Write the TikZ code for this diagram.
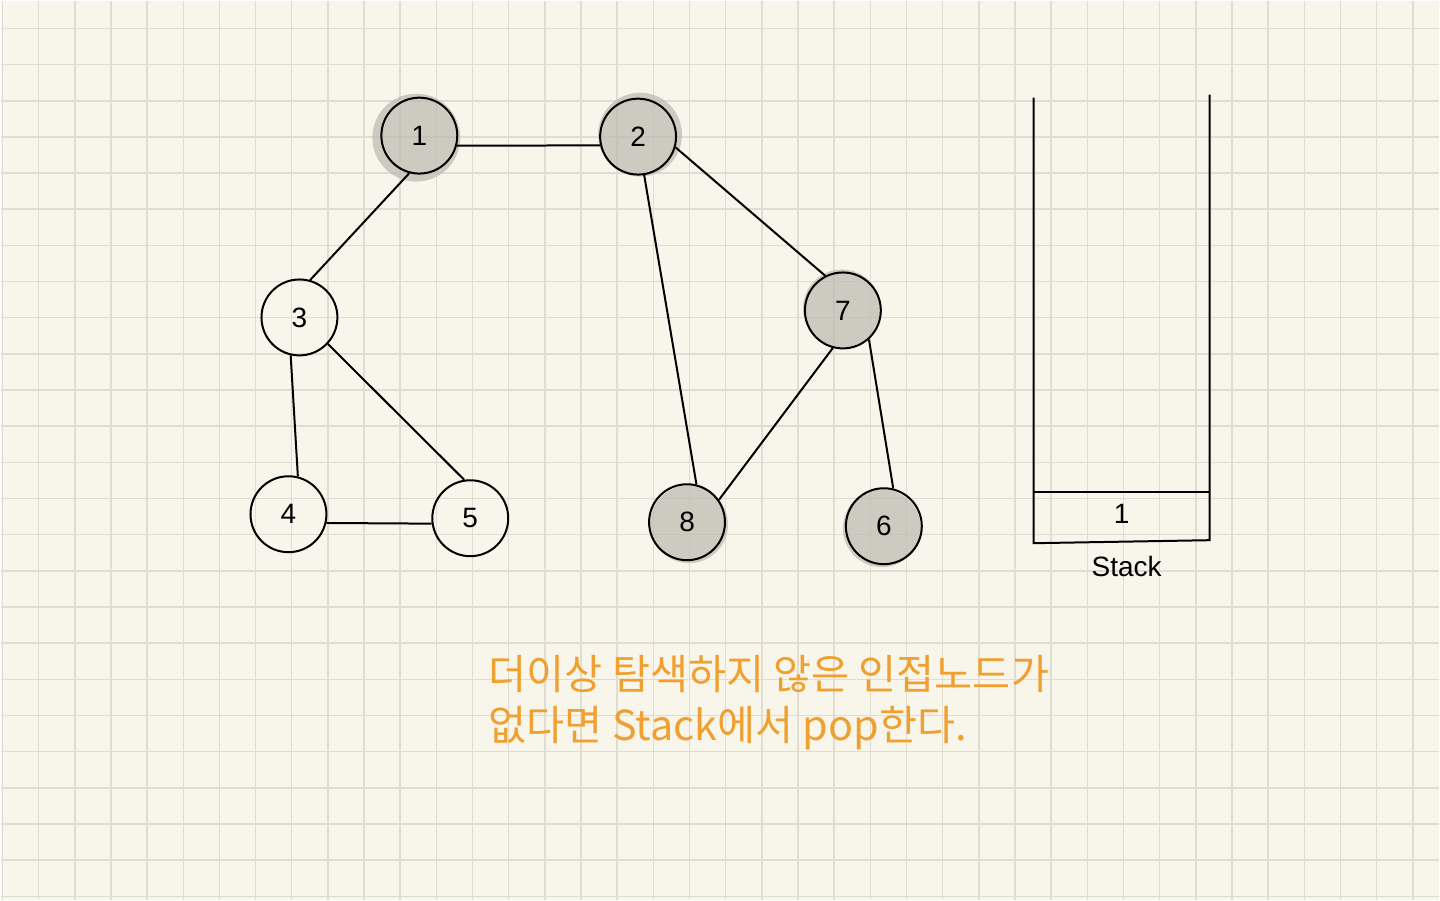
\documentclass[tikz,border=0pt]{standalone}
\usepackage{fontspec}
\setmainfont{Liberation Sans}
\newfontfamily\krfont{Noto Sans CJK KR}
\usetikzlibrary{backgrounds}
\definecolor{paper}{RGB}{248,246,234}
\definecolor{gridline}{RGB}{224,221,208}
\definecolor{visited}{RGB}{186,186,174}
\definecolor{note}{RGB}{240,160,48}

\begin{document}
\begin{tikzpicture}[x=0.5pt,y=-0.5pt]

\begin{scope}[on background layer]
	\fill[paper] (0,0) rectangle (1440,900);
	\foreach \i in {0,...,39}
		\draw[gridline,line width=0.75pt] ({1.7+36.2*\i},0) -- ({1.7+36.2*\i},900);
	\foreach \j in {0,...,24}
		\draw[gridline,line width=0.75pt] (0,{27.7+36.2*\j}) -- (1440,{27.7+36.2*\j});
\end{scope}
\useasboundingbox (0,0) rectangle (1440,900);

\begin{scope}[every node/.style={circle,draw,line width=1pt,minimum size=38pt,inner sep=0pt,font=\fontsize{14}{16}\selectfont}]
	\node (1) at (419,135) {1};
	\node (2) at (638,136) {2};
	\node (3) at (299,317) {3};
	\node (4) at (288,514) {4};
	\node (5) at (470,518) {5};
	\node (7) at (843,310) {7};
	\node (8) at (687,522) {8};
	\node (6) at (884,526) {6};
\end{scope}

% visited nodes
\begin{scope}[on background layer,every path/.style={fill=visited,fill opacity=.7}]
	\fill ([shift={(-3,2)}]1) circle (44);
	\fill ([shift={(2,-2)}]2) circle (42);
	\fill ([shift={(-1,-2)}]7) circle (39);
	\fill ([shift={(2,2)}]8) circle (39);
	\fill ([shift={(-2,2)}]6) circle (39);
\end{scope}

\begin{scope}[every edge/.style={draw=black,line width=1pt}]
	\path (1.-15) edge (2.-167);
	\path (1.-105) edge (3.74);
	\path (3.-103) edge (4.76);
	\path (3.-43) edge (5.99);
	\path (4.-13) edge (5.-172);
	\path (2.-81) edge (8.76);
	\path (2.-16) edge (7.117);
	\path (7.-105) edge (8.35);
	\path (7.-48) edge (6.76);
\end{scope}

% stack
\coordinate (stl) at (1034,97);
\coordinate (str) at (1210,94);
\coordinate (sbl) at (1034,543);
\coordinate (sbr) at (1210,540);
\coordinate (sml) at (1034,492);
\coordinate (smr) at (1210,492);
\draw[line width=1pt] (stl) -- (sbl) -- (sbr) -- (str);
\draw[line width=1pt] (sml) -- (smr);
\node[font=\fontsize{14}{16}\selectfont] (top) at (1122,514) {1};
\node[font=\fontsize{14}{16}\selectfont] (stack) at (1127,566) {Stack};

\node[anchor=west,align=left,inner sep=0pt,text=note,font=\krfont\fontsize{20.7}{25.5}\selectfont] (msg) at (488,703) {더이상 탐색하지 않은 인접노드가\\없다면 Stack에서 pop한다.};

\end{tikzpicture}
\end{document}
